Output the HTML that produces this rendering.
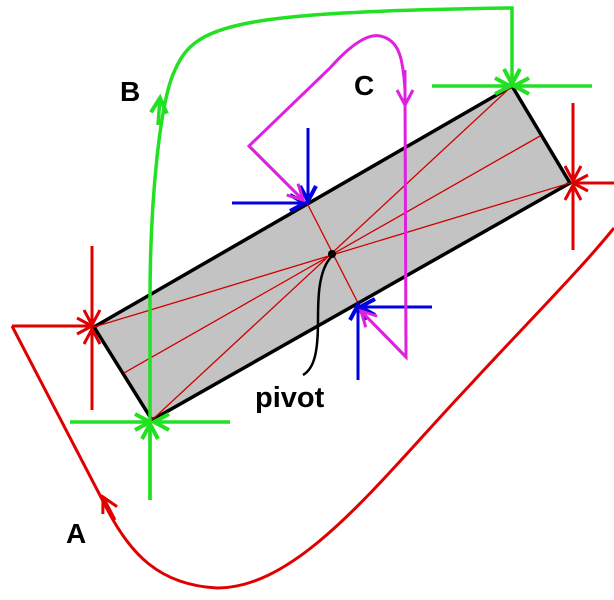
<!DOCTYPE html>
<html><head><style>body{margin:0;background:#fff}svg{display:block}</style></head><body>
<svg width="614" height="600" viewBox="0 0 614 600" xmlns="http://www.w3.org/2000/svg">
<defs>
<marker id="r" markerUnits="userSpaceOnUse" markerWidth="30" markerHeight="30" refX="0" refY="0" viewBox="-20 -15 30 30" orient="auto"><path d="M-15,-8 L0,0 L-15,8" fill="none" stroke="#e00000" stroke-width="3"/></marker>
<marker id="g" markerUnits="userSpaceOnUse" markerWidth="30" markerHeight="30" refX="0" refY="0" viewBox="-20 -15 30 30" orient="auto"><path d="M-15,-8 L0,0 L-15,8" fill="none" stroke="#22e022" stroke-width="4"/></marker>
<marker id="b" markerUnits="userSpaceOnUse" markerWidth="30" markerHeight="30" refX="0" refY="0" viewBox="-20 -15 30 30" orient="auto"><path d="M-15,-8 L0,0 L-15,8" fill="none" stroke="#0000e0" stroke-width="4"/></marker>
<marker id="m" markerUnits="userSpaceOnUse" markerWidth="30" markerHeight="30" refX="0" refY="0" viewBox="-20 -15 30 30" orient="auto"><path d="M-15,-8 L0,0 L-15,8" fill="none" stroke="#e020e0" stroke-width="3"/></marker>
</defs>
<polygon points="94,327 512,86 570,183 152,420" fill="#c3c3c3" stroke="#000" stroke-width="3.5"/>
<g stroke="#d00000" stroke-width="1.3" fill="none">
<line x1="94" y1="327" x2="570" y2="183"/>
<line x1="152" y1="420" x2="512" y2="86"/>
<line x1="124" y1="373" x2="540" y2="136"/>
<line x1="307" y1="203" x2="358" y2="303"/>
</g>
<g stroke="#22e022" stroke-width="3.5" fill="none">
<path d="M150,500 L150,300 C150,200 160,100 175,70 C195,25 230,12 512,8 L512,84" marker-end="url(#g)"/>
<line x1="158" y1="125" x2="160" y2="98" marker-end="url(#g)"/>
<line x1="432" y1="86" x2="510" y2="86" marker-end="url(#g)"/>
<line x1="592" y1="86" x2="514" y2="86" marker-end="url(#g)"/>
<line x1="70" y1="422" x2="150" y2="422" marker-end="url(#g)"/>
<line x1="230" y1="422" x2="154" y2="422" marker-end="url(#g)"/>
<line x1="150" y1="500" x2="150" y2="424" marker-end="url(#g)"/>
</g>
<g stroke="#e00000" stroke-width="3" fill="none">
<line x1="92" y1="246" x2="92" y2="325" marker-end="url(#r)"/>
<line x1="92" y1="410" x2="92" y2="329" marker-end="url(#r)"/>
<line x1="12" y1="326" x2="92" y2="326" marker-end="url(#r)"/>
<path d="M12,326 L105,505 C130,555 160,585 217,588 C300,588 380,480 470,385 C530,320 580,270 614,228"/>
<line x1="115" y1="520" x2="103" y2="497" marker-end="url(#r)"/>
<line x1="573" y1="103" x2="573" y2="181" marker-end="url(#r)"/>
<line x1="573" y1="250" x2="573" y2="185" marker-end="url(#r)"/>
<line x1="614" y1="183" x2="573" y2="183" marker-end="url(#r)"/>
</g>
<g stroke="#0000e0" stroke-width="3" fill="none">
<line x1="308" y1="128" x2="308" y2="201" marker-end="url(#b)"/>
<line x1="232" y1="203" x2="305" y2="203" marker-end="url(#b)"/>
<line x1="432" y1="307" x2="360" y2="307" marker-end="url(#b)"/>
<line x1="358" y1="380" x2="358" y2="305" marker-end="url(#b)"/>
</g>
<g stroke="#e020e0" stroke-width="3" fill="none">
<path d="M303,200 L249,146 L330,68 C355,40 370,34 380,36 C400,40 403,60 405,90 L406,357 L361,311" />
<line x1="249" y1="146" x2="303" y2="200" marker-end="url(#m)"/>
<line x1="405" y1="70" x2="405" y2="105" marker-end="url(#m)"/>
<line x1="406" y1="357" x2="361" y2="311" marker-end="url(#m)"/>
</g>
<circle cx="332" cy="254" r="4" fill="#000"/>
<path d="M332,256 C318,270 318,300 318,320 C318,350 315,368 303,375" fill="none" stroke="#000" stroke-width="2.5"/>
<g font-family="Liberation Sans, sans-serif" font-weight="bold" fill="#000">
<text x="120" y="101" font-size="28">B</text>
<text x="354" y="95" font-size="28">C</text>
<text x="66" y="543" font-size="28">A</text>
<text x="255" y="407" font-size="29">pivot</text>
</g>
</svg>
</body></html>
